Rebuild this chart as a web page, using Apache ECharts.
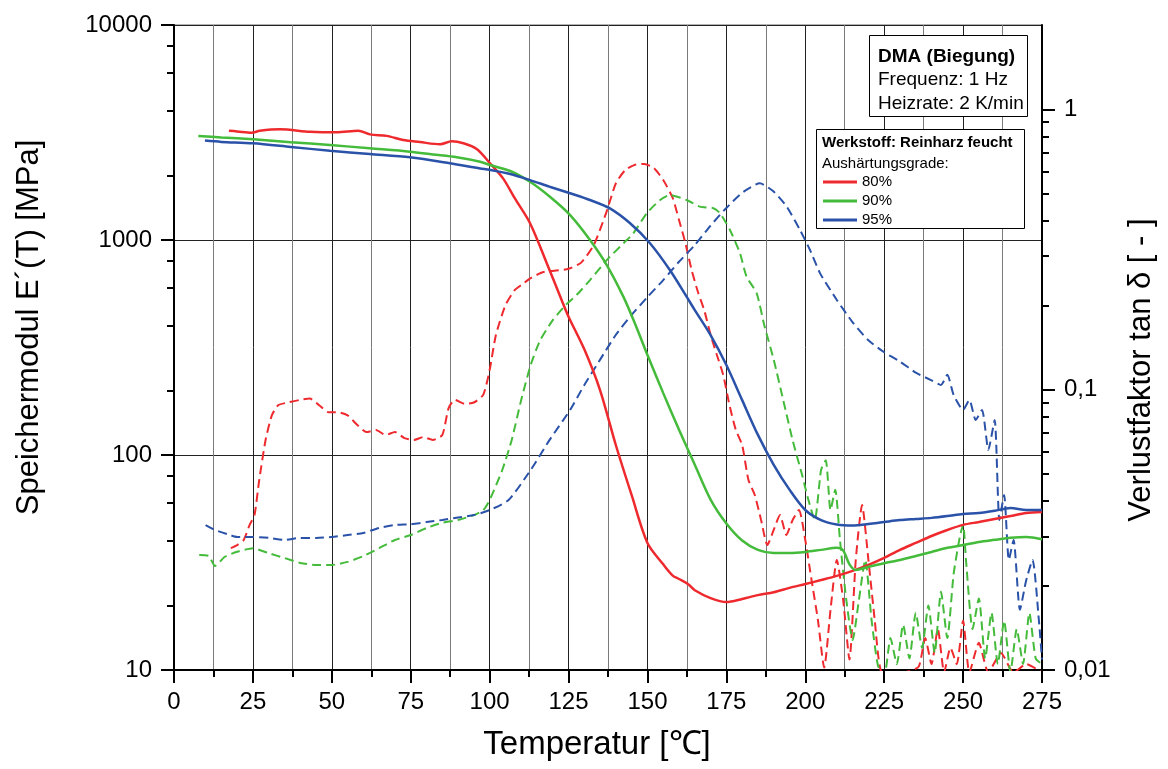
<!DOCTYPE html>
<html>
<head>
<meta charset="utf-8">
<script src="https://cdn.jsdelivr.net/npm/echarts@6/dist/echarts.min.js"></script>
<style>
html,body{margin:0;padding:0;background:#fff;}
#chart{width:1168px;height:769px;}
</style>
</head>
<body>
<div id="chart"></div>
<script>
// ---- Data (temperature in °C, storage modulus in MPa, loss factor tan δ) ----
const xTicks = [0, 25, 50, 75, 100, 125, 150, 175, 200, 225, 250, 275];
const leftTicks = [10, 100, 1000, 10000];
const leftMinorTicks = [20, 40, 60, 80, 200, 400, 600, 800, 2000, 4000, 6000, 8000];
const rightTicks = [0.01, 0.1, 1];
const rightMinorTicks = [0.02, 0.03, 0.04, 0.05, 0.06, 0.07, 0.08, 0.09, 0.2, 0.3, 0.4, 0.5, 0.6, 0.7, 0.8, 0.9];
const legendNames = ['80%', '90%', '95%'];

const modulus80 = [[17.4,3220],[20,3200],[24.6,3155],[27.2,3220],[33.6,3270],[43.1,3190],[51.5,3170],[58.4,3220],[62.1,3100],[67.4,3050],[72.6,2917],[77.9,2855],[84.3,2786],[88,2880],[91.7,2818],[95.9,2650],[100.1,2275],[104.3,1930],[108,1560],[112.8,1197],[118.1,780],[122.8,526],[125,440],[130,310],[135,200],[140,111],[145,65],[150,39],[155,31],[158,27.5],[160,26.5],[163,25],[165,23.5],[170,21.6],[175,20.7],[180,21.4],[185,22.3],[190,23],[195,24.1],[200,25.1],[205,26.2],[210,27.4],[215,28.9],[220,30.8],[225,33.2],[230,36.2],[235,39],[240,42],[245,44.8],[250,47.3],[255,48.8],[260,50.4],[265,52],[270,53.7],[275,54.3]];
const modulus90 = [[7.7,3048],[15,3000],[25.1,2940],[37,2850],[49.4,2766],[62,2670],[74.8,2576],[82,2500],[89.6,2424],[97,2311],[100.1,2233],[106.5,2094],[112.8,1866],[119.1,1589],[125.5,1306],[131.8,1000],[137.1,765],[142.4,544],[146,410],[150,292],[155,194],[160,131],[165,90],[170,62],[175,48],[180,40],[185,36.2],[190,35],[195,35],[200,35.4],[205,36.2],[210,37],[212,36],[214,31],[216,29.2],[220,30.2],[225,31.4],[230,32.5],[235,33.9],[240,35.4],[245,37],[250,38.1],[255,39.4],[260,40.3],[265,41.2],[270,41.6],[275,40.6]];
const modulus95 = [[9.8,2900],[15,2860],[25,2818],[37,2710],[49.4,2600],[62,2510],[74.8,2424],[87.4,2275],[97,2152],[100,2120],[106.5,2028],[112.8,1900],[119,1770],[125.5,1649],[132,1530],[138.1,1403],[144.5,1196],[150.8,966],[157.1,725],[162.4,545],[165,472],[170,361],[175,262],[180,180],[185,124],[190,90],[195,69],[200,55.5],[205,49.8],[210,47.5],[215,47],[220,47.8],[225,48.8],[230,49.8],[235,50.4],[240,51],[245,52],[250,53.2],[255,53.7],[260,55],[265,56.7],[270,55.5],[275,55.5]];

const tan80 = [[18,0.0272],[20,0.0279],[22,0.029],[24,0.033],[25.5,0.0357],[27,0.0476],[29,0.066],[31,0.081],[33,0.088],[36,0.09],[40,0.092],[43,0.093],[46,0.088],[49,0.083],[52,0.083],[55,0.081],[58,0.075],[61,0.0706],[64,0.0718],[67,0.0689],[70,0.0706],[73,0.0672],[76,0.0662],[79,0.0678],[82,0.0662],[85,0.0689],[87,0.086],[89,0.092],[92,0.089],[95,0.09],[98,0.096],[100,0.1175],[102,0.157],[105,0.2],[108,0.227],[110,0.236],[113,0.25],[117,0.263],[121,0.266],[125,0.27],[129,0.284],[133,0.328],[137,0.43],[140,0.545],[143,0.608],[146,0.634],[149,0.639],[152,0.618],[155,0.56],[158,0.483],[160,0.403],[162,0.334],[164,0.267],[166,0.223],[168,0.192],[170,0.157],[172,0.133],[174,0.113],[176,0.088],[178,0.0718],[180,0.0635],[182,0.0476],[184,0.0421],[186,0.0343],[188,0.0279],[190,0.0316],[192,0.0357],[194,0.0303],[196,0.0343],[198,0.0372],[200,0.0291],[202,0.0209],[204,0.0151],[206,0.0102],[208,0.0164],[210,0.0247],[212,0.0178],[214,0.0109],[216,0.0247],[218,0.0388],[220,0.0247],[222,0.0151],[224,0.0099],[228,0.0097],[233,0.0099],[236,0.0103],[238,0.013],[240,0.0105],[242,0.014],[244,0.0098],[246,0.012],[248,0.0105],[250,0.015],[252,0.0098],[255,0.0125],[258,0.0098],[262,0.0115],[266,0.0098],[270,0.0105],[275,0.0098]];
const tan90 = [[8,0.0257],[11,0.0255],[13,0.0235],[16,0.0253],[20,0.0264],[25,0.0272],[30,0.0261],[35,0.0251],[40,0.0241],[45,0.0237],[50,0.0237],[55,0.0243],[60,0.0255],[65,0.0272],[70,0.0291],[75,0.0303],[80,0.0321],[85,0.0335],[90,0.0343],[95,0.0357],[98,0.0372],[100,0.0404],[104,0.0517],[107,0.0662],[110,0.0919],[113,0.1225],[116,0.15],[120,0.177],[124,0.2],[127.6,0.218],[131.8,0.246],[137.1,0.29],[142.4,0.333],[145.5,0.361],[149.8,0.426],[154,0.475],[157.1,0.495],[162.4,0.475],[166.6,0.45],[170.9,0.444],[173,0.426],[176.1,0.372],[179.3,0.307],[181.4,0.253],[184.6,0.221],[187,0.17],[190,0.128],[193,0.092],[196,0.066],[199,0.0496],[201,0.0404],[203,0.0343],[205,0.0517],[206.5,0.056],[208,0.0372],[209.5,0.044],[211,0.029],[213,0.0178],[215,0.0128],[217,0.0178],[219,0.0247],[221,0.0151],[223,0.0104],[225,0.0095],[227,0.013],[229,0.0105],[231,0.0145],[233,0.011],[235,0.016],[237,0.012],[239,0.017],[241,0.0115],[243,0.019],[245,0.013],[247,0.022],[249,0.03],[250,0.033],[251,0.024],[253,0.014],[255,0.018],[257,0.011],[259,0.016],[261,0.0105],[263,0.015],[265,0.0098],[267,0.014],[269,0.0105],[271,0.016],[273,0.011],[275,0.0105]];
const tan95 = [[10,0.0329],[13,0.0316],[17,0.0305],[20,0.0298],[25,0.0298],[30,0.0296],[35,0.0291],[40,0.0296],[45,0.0296],[50,0.0298],[55,0.0303],[60,0.0308],[65,0.0321],[70,0.0329],[75,0.0331],[80,0.0337],[85,0.0343],[90,0.035],[95,0.0357],[100,0.0372],[106,0.0404],[113,0.0517],[119,0.0662],[125.5,0.0847],[130,0.104],[135,0.128],[140,0.157],[145,0.185],[150,0.214],[155,0.246],[160,0.286],[165,0.328],[170,0.385],[175,0.445],[180.4,0.508],[185.6,0.545],[189.9,0.51],[194.1,0.45],[198.3,0.372],[201.5,0.315],[204.7,0.26],[210,0.209],[215,0.174],[220,0.15],[225,0.136],[230,0.126],[235,0.115],[240,0.108],[243,0.104],[245,0.113],[247,0.0957],[250,0.0847],[252,0.0919],[254,0.078],[256,0.0847],[258,0.061],[260,0.078],[261.5,0.0343],[263,0.0421],[264.5,0.0247],[266,0.0291],[268,0.0164],[270,0.0209],[272,0.0247],[274,0.0151],[275,0.0109]];

const colors = ['#ee2a2e', '#44bb3a', '#2a52a8'];
const FONT = 'Liberation Sans, Arial, Helvetica, sans-serif';

const fmt = v => String(Number(Number(v).toPrecision(4))).replace('.', ',');

function logAxis(pos, min, max, ticks, isMinor) {
  return {
    type: 'log', logBase: 10, position: pos, min: min, max: max,
    axisLine: { show: !isMinor, onZero: false, lineStyle: { color: '#000', width: 2 } },
    axisTick: { show: true, customValues: ticks, length: isMinor ? 7 : 13, lineStyle: { color: '#000', width: 2 } },
    axisLabel: isMinor ? { show: false } : { show: true, customValues: ticks, formatter: fmt, fontSize: 24, color: '#000', fontFamily: FONT, margin: 22 },
    splitLine: { show: false }
  };
}

const yLeft = logAxis('left', 10, 10000, leftTicks, false);
yLeft.splitLine = { show: true, lineStyle: { color: '#222', width: 1 } };
yLeft.name = 'Speichermodul E´(T) [MPa]';
yLeft.nameLocation = 'middle';
yLeft.nameGap = 129;
yLeft.nameTextStyle = { fontSize: 31, color: '#000', fontFamily: FONT, padding: [0, 0, 0, 40] };

const yRight = logAxis('right', 0.01, 2, rightTicks, false);
yRight.name = 'Verlustfaktor tan δ [ - ]';
yRight.nameLocation = 'middle';
yRight.nameGap = 84;
yRight.nameTextStyle = { fontSize: 31, color: '#000', fontFamily: FONT, padding: [0, 45, 0, 0] };

const option = {
  animation: false,
  backgroundColor: '#fff',
  grid: { left: 174, right: 126, top: 25, bottom: 99, show: true, borderColor: '#666', borderWidth: 1, backgroundColor: 'transparent' },
  xAxis: {
    type: 'value', min: 0, max: 275, interval: 25,
    name: 'Temperatur [℃]', nameLocation: 'middle', nameGap: 58,
    nameTextStyle: { fontSize: 33, color: '#000', fontFamily: FONT, padding: [0, 22, 0, 0] },
    axisLine: { onZero: false, lineStyle: { color: '#000', width: 2 } },
    axisTick: { length: 13, lineStyle: { color: '#000', width: 2 } },
    minorTick: { show: true, splitNumber: 2, length: 7, lineStyle: { color: '#000', width: 2 } },
    axisLabel: { fontSize: 24, color: '#000', fontFamily: FONT, margin: 20 },
    splitLine: { show: true, lineStyle: { color: '#222', width: 1 } },
    minorSplitLine: { show: true, lineStyle: { color: '#7a7a7a', width: 1 } }
  },
  yAxis: [yLeft, yRight, logAxis('left', 10, 10000, leftMinorTicks, true), logAxis('right', 0.01, 2, rightMinorTicks, true)],
  legend: {
    data: legendNames.map(n => ({ name: n, icon: 'rect' })), orient: 'vertical', left: 823, top: 173, padding: 0,
    itemWidth: 34, itemHeight: 3, itemGap: 1, z: 120,
    textStyle: { fontSize: 15, color: '#000', fontFamily: FONT, lineHeight: 18 }
  },
  graphic: [
    { type: 'rect', z: 100, shape: { x: 869.5, y: 35.5, width: 158, height: 81 }, style: { fill: '#fff', stroke: '#000', lineWidth: 1 } },
    { type: 'text', z: 101, x: 878, y: 57, style: { text: 'DMA (Biegung)', font: 'bold 19px ' + FONT, fill: '#000', textVerticalAlign: 'middle' } },
    { type: 'text', z: 101, x: 878, y: 80, style: { text: 'Frequenz: 1 Hz', font: '19px ' + FONT, fill: '#000', textVerticalAlign: 'middle' } },
    { type: 'text', z: 101, x: 878, y: 103.5, style: { text: 'Heizrate: 2 K/min', font: '19px ' + FONT, fill: '#000', textVerticalAlign: 'middle' } },
    { type: 'rect', z: 100, shape: { x: 816.5, y: 129.5, width: 208, height: 99 }, style: { fill: '#fff', stroke: '#000', lineWidth: 1 } },
    { type: 'text', z: 101, x: 822, y: 143, style: { text: 'Werkstoff: Reinharz feucht', font: 'bold 15px ' + FONT, fill: '#000', textVerticalAlign: 'middle' } },
    { type: 'text', z: 101, x: 822, y: 163.5, style: { text: 'Aushärtungsgrade:', font: '15px ' + FONT, fill: '#000', textVerticalAlign: 'middle' } }
  ],
  series: [
    { name: legendNames[0], type: 'line', yAxisIndex: 0, data: modulus80, symbol: 'none', smooth: 0.3, lineStyle: { color: colors[0], width: 2.5 }, itemStyle: { color: colors[0] }, z: 5 },
    { name: legendNames[1], type: 'line', yAxisIndex: 0, data: modulus90, symbol: 'none', smooth: 0.3, lineStyle: { color: colors[1], width: 2.5 }, itemStyle: { color: colors[1] }, z: 5 },
    { name: legendNames[2], type: 'line', yAxisIndex: 0, data: modulus95, symbol: 'none', smooth: 0.3, lineStyle: { color: colors[2], width: 2.5 }, itemStyle: { color: colors[2] }, z: 5 },
    { name: 'tan δ 80%', type: 'line', yAxisIndex: 1, data: tan80, symbol: 'none', smooth: 0.2, lineStyle: { color: colors[0], width: 2, type: [9, 5] }, itemStyle: { color: colors[0] }, z: 4 },
    { name: 'tan δ 90%', type: 'line', yAxisIndex: 1, data: tan90, symbol: 'none', smooth: 0.2, lineStyle: { color: colors[1], width: 2, type: [9, 5] }, itemStyle: { color: colors[1] }, z: 4 },
    { name: 'tan δ 95%', type: 'line', yAxisIndex: 1, data: tan95, symbol: 'none', smooth: 0.2, lineStyle: { color: colors[2], width: 2, type: [9, 5] }, itemStyle: { color: colors[2] }, z: 4 }
  ]
};

const chart = echarts.init(document.getElementById('chart'), null, { renderer: 'canvas' });
chart.setOption(option);
</script>
</body>
</html>
